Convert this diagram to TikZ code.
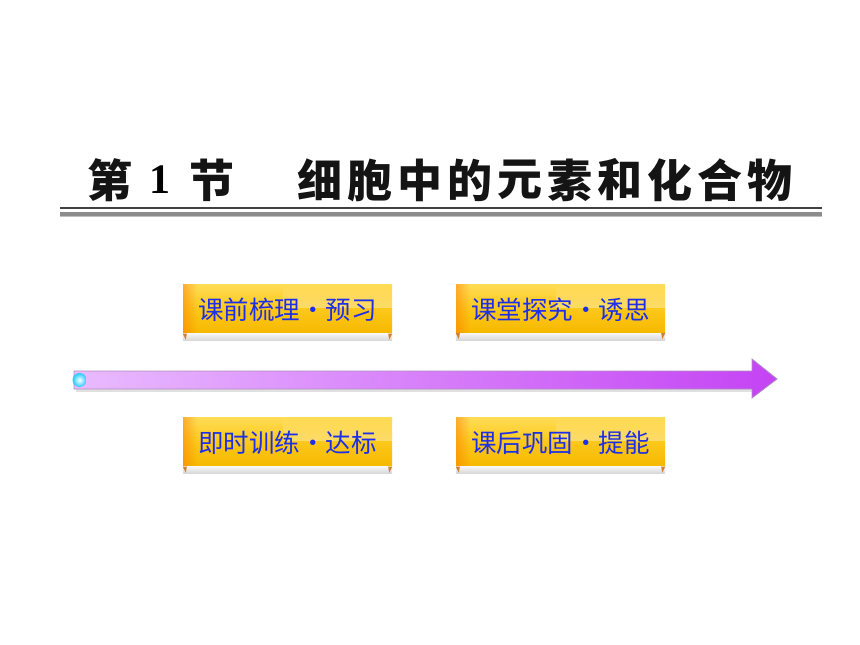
\documentclass[tikz,border=0pt]{standalone}
\usepackage{fontspec}
\newfontfamily\cjk{Noto Sans CJK SC}
\setmainfont{Liberation Serif}
\usetikzlibrary{calc,fadings}
\definecolor{ribblue}{HTML}{1E2FE8}
\definecolor{goldA}{HTML}{FFDC55}
\definecolor{goldB}{HTML}{FCC81A}
\definecolor{goldC}{HTML}{F6B800}
\definecolor{lilacL}{HTML}{E9BBFF}
\definecolor{lilacR}{HTML}{C443F4}
\tikzset{
  ribbon/.style={rectangle, inner sep=0pt, minimum width=209pt, minimum height=49pt,
    top color=goldA, bottom color=goldC, middle color=goldB},
  ribtext/.style={font=\cjk\fontsize{25.5}{26}\selectfont, text=ribblue, inner sep=0pt},
  strip/.style={top color=black!4, bottom color=black!16},
  tab/.style={fill=brown!70!orange},
  titlechar/.style={font=\cjk\bfseries\fontsize{45}{46}\selectfont, inner sep=0pt, text=black!92},
}
\newcommand\ribbonat[4]{% name, x, y, text
  \node[ribbon] (#1) at (#2,#3) {};
  \fill[orange!90!red, opacity=0.45, path fading=east] (#1.north west) rectangle ($(#1.south west)+(14,0)$);
  \fill[white, opacity=0.35, path fading=north] ($(#1.north west)+(100,0)$) rectangle ($(#1.north east)+(0,24)$);
  \fill[strip] (#1.south west) rectangle ($(#1.south east)+(0,7)$);
  \fill[tab] (#1.south west) -- ++(4,0) -- ++(-1,6) -- cycle;
  \fill[tab] (#1.south east) -- ++(-4,0) -- ++(1,6) -- cycle;
  \node[ribtext] (#1t) at ($(#1)+(0,1)$) {#4};
}
\begin{document}
\begin{tikzpicture}[x=1pt,y=-1pt]
\useasboundingbox (0,0) rectangle (860,645);
\fill[white] (0,0) rectangle (860,645);

% title
\node[titlechar] (tdi) at (110,180) {第};
\node[font=\bfseries\fontsize{42}{42}\selectfont, inner sep=0pt] (tone) at (160,180) {1};
\node[titlechar] (tjie) at (212,180) {节};
\foreach \c [count=\i from 0] in {细,胞,中,的,元,素,和,化,合,物} {
  \node[titlechar] (tc\i) at (319.5+50.1*\i,180) {\c};
}
\draw[black!75, line width=1.2pt] (60,208) -- (822,208);
\draw[black!45, line width=4pt] (60,213.5) -- (822,213.5);
\draw[black!25, line width=1pt] (60,216) -- (822,216);

% ribbons
\ribbonat{b1}{287.5}{309}{课前梳理・预习}
\ribbonat{b2}{560.5}{308.5}{课堂探究・诱思}
\ribbonat{b3}{287.5}{442}{即时训练・达标}
\ribbonat{b4}{560.5}{442}{课后巩固・提能}

% arrow
\fill[black!12] (76,374) -- (754,374) -- (754,392) -- (76,392) -- cycle;
\path[left color=lilacL, right color=lilacR, draw=black!25!lilacL, line width=0.8pt]
  (74,371) -- (752,371) -- (752,359) -- (777,379) -- (752,398) -- (752,389) -- (74,389) -- cycle;
\shade[inner color=white, outer color=cyan!75!blue!85] (79.5,380) circle (7);
\end{tikzpicture}
\end{document}
